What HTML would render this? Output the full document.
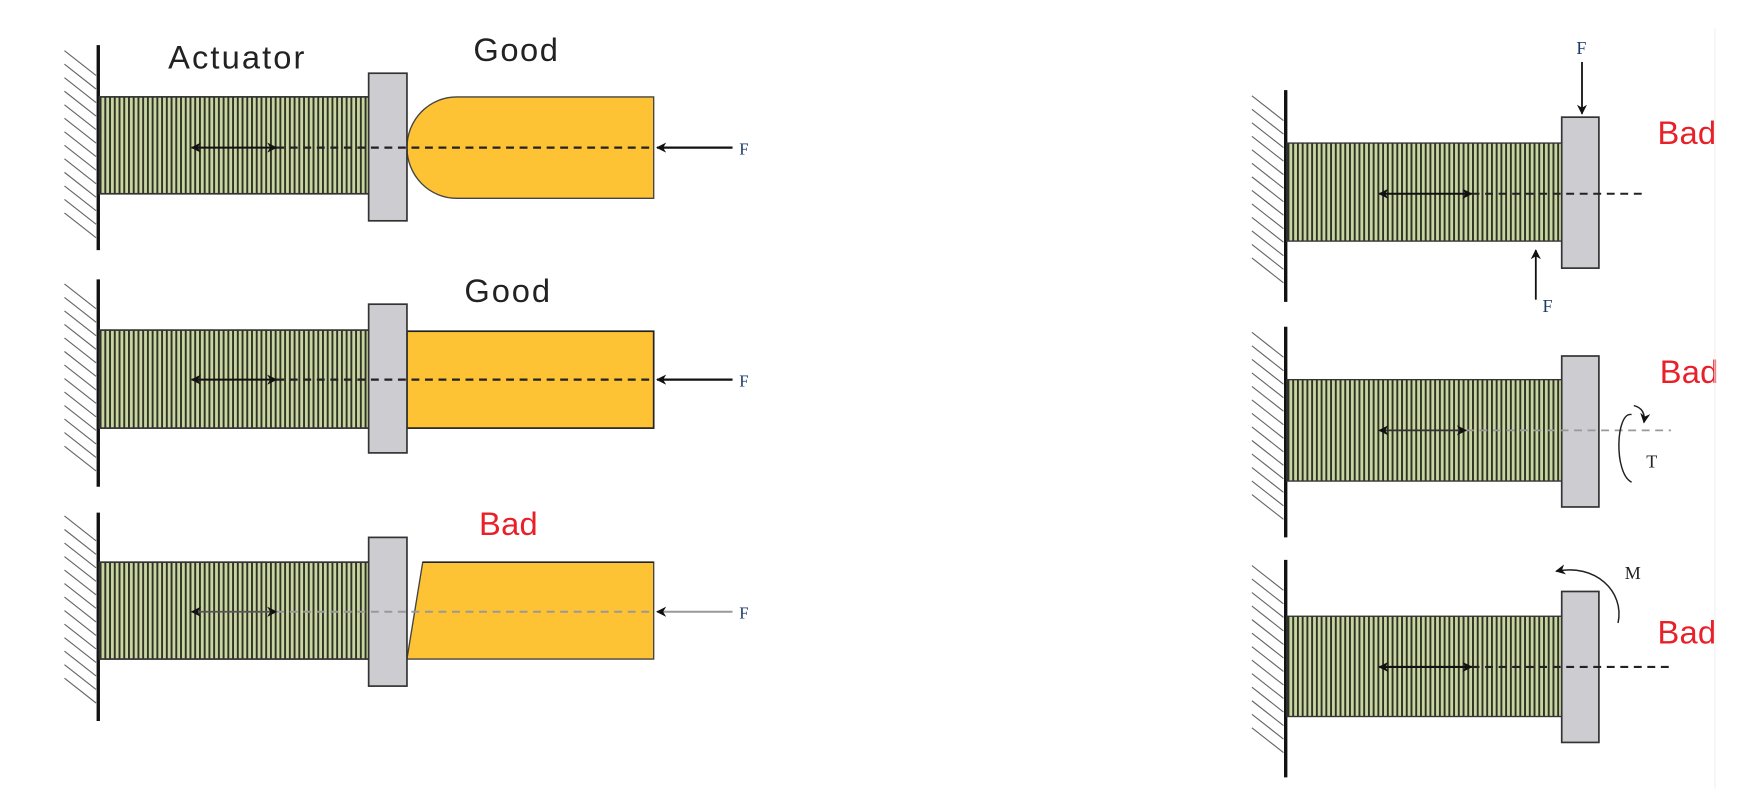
<!DOCTYPE html>
<html><head><meta charset="utf-8"><style>html,body{margin:0;padding:0;background:#fff}svg{display:block}</style></head>
<body>
<svg width="1758" height="792" viewBox="0 0 1560 703" xmlns="http://www.w3.org/2000/svg">
<defs>
<pattern id="act" width="4.2" height="10" patternUnits="userSpaceOnUse">
<rect width="4.2" height="10" fill="#c9d5a2"/>
<rect x="0" width="1.7" height="10" fill="#2e3324"/>
</pattern>
<marker id="ah" viewBox="0 0 10 10" refX="9" refY="5" markerWidth="9" markerHeight="9" orient="auto-start-reverse" markerUnits="userSpaceOnUse"><path d="M0,0 L10,5 L0,10 L3,5z" fill="#111"/></marker>
</defs>
<g font-family="Liberation Sans, sans-serif">
<!-- L1 -->
<g>
<g stroke="#666" stroke-width="1">
<path d="M57,45 l28,22 M57,57 l28,22 M57,69 l28,22 M57,81 l28,22 M57,93 l28,22 M57,105 l28,22 M57,117 l28,22 M57,129 l28,22 M57,141 l28,22 M57,153 l28,22 M57,165 l28,22 M57,177 l28,22 M57,189 l28,22"/>
</g>
<line x1="87" y1="40" x2="87" y2="222" stroke="#111" stroke-width="3"/>
<rect x="88" y="86" width="240" height="86" fill="url(#act)" stroke="#333" stroke-width="1.5"/>
<path d="M405,86 H580 V176 H405 A44,45 0 0 1 405,86z" fill="#fdc334" stroke="#444" stroke-width="1.2"/>
<rect x="327" y="65" width="34" height="131" fill="#cdcdd1" stroke="#333" stroke-width="1.5"/>
<line x1="245" y1="131" x2="580" y2="131" stroke="#222" stroke-width="2" stroke-dasharray="7,5"/>
<line x1="170" y1="131" x2="245" y2="131" stroke="#111" stroke-width="1.8" marker-start="url(#ah)" marker-end="url(#ah)"/>
<line x1="650" y1="131" x2="583" y2="131" stroke="#111" stroke-width="2" marker-end="url(#ah)"/>
<text x="656" y="137" font-family="Liberation Serif, serif" font-size="15" fill="#1a3a6a">F</text>
<text x="149" y="61" font-size="29" fill="#222" textLength="121">Actuator</text>
<text x="420" y="54" font-size="29" fill="#222" textLength="75">Good</text>
</g>
<!-- L2 -->
<g>
<g stroke="#666" stroke-width="1">
<path d="M57,252 l28,22 M57,264 l28,22 M57,276 l28,22 M57,288 l28,22 M57,300 l28,22 M57,312 l28,22 M57,324 l28,22 M57,336 l28,22 M57,348 l28,22 M57,360 l28,22 M57,372 l28,22 M57,384 l28,22 M57,396 l28,22"/>
</g>
<line x1="87" y1="248" x2="87" y2="432" stroke="#111" stroke-width="3"/>
<rect x="88" y="293" width="240" height="87" fill="url(#act)" stroke="#333" stroke-width="1.5"/>
<rect x="361" y="294" width="219" height="86" fill="#fdc334" stroke="#222" stroke-width="1.5"/>
<rect x="327" y="270" width="34" height="132" fill="#cdcdd1" stroke="#333" stroke-width="1.5"/>
<line x1="245" y1="337" x2="580" y2="337" stroke="#222" stroke-width="2" stroke-dasharray="7,5"/>
<line x1="170" y1="337" x2="245" y2="337" stroke="#111" stroke-width="1.8" marker-start="url(#ah)" marker-end="url(#ah)"/>
<line x1="650" y1="337" x2="583" y2="337" stroke="#111" stroke-width="2" marker-end="url(#ah)"/>
<text x="656" y="343" font-family="Liberation Serif, serif" font-size="15" fill="#1a3a6a">F</text>
<text x="412" y="268" font-size="29" fill="#222" textLength="76">Good</text>
</g>
<!-- L3 -->
<g>
<g stroke="#666" stroke-width="1">
<path d="M57,458 l28,22 M57,470 l28,22 M57,482 l28,22 M57,494 l28,22 M57,506 l28,22 M57,518 l28,22 M57,530 l28,22 M57,542 l28,22 M57,554 l28,22 M57,566 l28,22 M57,578 l28,22 M57,590 l28,22 M57,602 l28,22"/>
</g>
<line x1="87" y1="455" x2="87" y2="640" stroke="#111" stroke-width="3"/>
<rect x="88" y="499" width="240" height="86" fill="url(#act)" stroke="#333" stroke-width="1.5"/>
<path d="M375,499 H580 V585 H361z" fill="#fdc334" stroke="#444" stroke-width="1.2"/>
<line x1="375" y1="499" x2="580" y2="499" stroke="#222" stroke-width="1.5"/>
<rect x="327" y="477" width="34" height="132" fill="#cdcdd1" stroke="#333" stroke-width="1.5"/>
<line x1="245" y1="543" x2="580" y2="543" stroke="#999" stroke-width="1.8" stroke-dasharray="7,5"/>
<line x1="170" y1="543" x2="245" y2="543" stroke="#555" stroke-width="1.5" marker-start="url(#ah)" marker-end="url(#ah)"/>
<line x1="650" y1="543" x2="583" y2="543" stroke="#999" stroke-width="1.8" marker-end="url(#ah)"/>
<text x="656" y="549" font-family="Liberation Serif, serif" font-size="15" fill="#1a3a6a">F</text>
<text x="425" y="475" font-size="29" fill="#e8202a" textLength="52">Bad</text>
</g>
<g transform="translate(-4,0)">
<!-- R1 -->
<g>
<g stroke="#666" stroke-width="1">
<path d="M1115,85 l28,22 M1115,97 l28,22 M1115,109 l28,22 M1115,121 l28,22 M1115,133 l28,22 M1115,145 l28,22 M1115,157 l28,22 M1115,169 l28,22 M1115,181 l28,22 M1115,193 l28,22 M1115,205 l28,22 M1115,217 l28,22 M1115,229 l28,22"/>
</g>
<line x1="1145" y1="80" x2="1145" y2="268" stroke="#111" stroke-width="3"/>
<rect x="1146" y="127" width="244" height="87" fill="url(#act)" stroke="#333" stroke-width="1.2"/>
<rect x="1390" y="104" width="33" height="134" fill="#cdcdd1" stroke="#333" stroke-width="1.5"/>
<line x1="1310" y1="172" x2="1465" y2="172" stroke="#222" stroke-width="1.8" stroke-dasharray="7,5"/>
<line x1="1228" y1="172" x2="1310" y2="172" stroke="#111" stroke-width="1.8" marker-start="url(#ah)" marker-end="url(#ah)"/>
<line x1="1408" y1="55" x2="1408" y2="101" stroke="#111" stroke-width="1.6" marker-end="url(#ah)"/>
<text x="1403" y="48" font-family="Liberation Serif, serif" font-size="16" fill="#1a3a6a">F</text>
<line x1="1367" y1="266" x2="1367" y2="222" stroke="#111" stroke-width="1.6" marker-end="url(#ah)"/>
<text x="1373" y="277" font-family="Liberation Serif, serif" font-size="16" fill="#1a3a6a">F</text>
<text x="1475" y="128" font-size="29" fill="#e8202a" textLength="52">Bad</text>
</g>
<!-- R2 -->
<g>
<g stroke="#666" stroke-width="1">
<path d="M1115,295 l28,22 M1115,307 l28,22 M1115,319 l28,22 M1115,331 l28,22 M1115,343 l28,22 M1115,355 l28,22 M1115,367 l28,22 M1115,379 l28,22 M1115,391 l28,22 M1115,403 l28,22 M1115,415 l28,22 M1115,427 l28,22 M1115,439 l28,22"/>
</g>
<line x1="1145" y1="290" x2="1145" y2="477" stroke="#111" stroke-width="3"/>
<rect x="1146" y="337" width="244" height="90" fill="url(#act)" stroke="#333" stroke-width="1.2"/>
<rect x="1390" y="316" width="33" height="134" fill="#cdcdd1" stroke="#333" stroke-width="1.5"/>
<line x1="1305" y1="382" x2="1487" y2="382" stroke="#999" stroke-width="1.5" stroke-dasharray="7,5"/>
<line x1="1228" y1="382" x2="1305" y2="382" stroke="#333" stroke-width="1.5" marker-start="url(#ah)" marker-end="url(#ah)"/>
<path d="M1452,368 C1438,365 1436,420 1452,428" fill="none" stroke="#222" stroke-width="1.3"/>
<path d="M1454,360 C1462,362 1464,368 1463,375" fill="none" stroke="#222" stroke-width="1.3" marker-end="url(#ah)"/>
<text x="1465" y="415" font-family="Liberation Serif, serif" font-size="16" fill="#222">T</text>
<text x="1477" y="340" font-size="29" fill="#e8202a" textLength="52">Bad</text>
</g>
<!-- R3 -->
<g>
<g stroke="#666" stroke-width="1">
<path d="M1115,502 l28,22 M1115,514 l28,22 M1115,526 l28,22 M1115,538 l28,22 M1115,550 l28,22 M1115,562 l28,22 M1115,574 l28,22 M1115,586 l28,22 M1115,598 l28,22 M1115,610 l28,22 M1115,622 l28,22 M1115,634 l28,22 M1115,646 l28,22"/>
</g>
<line x1="1145" y1="497" x2="1145" y2="690" stroke="#111" stroke-width="3"/>
<rect x="1146" y="547" width="244" height="89" fill="url(#act)" stroke="#333" stroke-width="1.2"/>
<rect x="1390" y="525" width="33" height="134" fill="#cdcdd1" stroke="#333" stroke-width="1.5"/>
<line x1="1310" y1="592" x2="1485" y2="592" stroke="#222" stroke-width="1.8" stroke-dasharray="7,5"/>
<line x1="1228" y1="592" x2="1310" y2="592" stroke="#111" stroke-width="1.8" marker-start="url(#ah)" marker-end="url(#ah)"/>
<path d="M1440,553 C1446,525 1420,500 1385,507" fill="none" stroke="#222" stroke-width="1.3" marker-end="url(#ah)"/>
<text x="1446" y="514" font-family="Liberation Serif, serif" font-size="16" fill="#222">M</text>
<text x="1475" y="571" font-size="29" fill="#e8202a" textLength="52">Bad</text>
</g>
</g>
<line x1="1522" y1="25" x2="1522" y2="700" stroke="#f0f0f0" stroke-width="1"/>
</g>
</svg>
</body></html>
